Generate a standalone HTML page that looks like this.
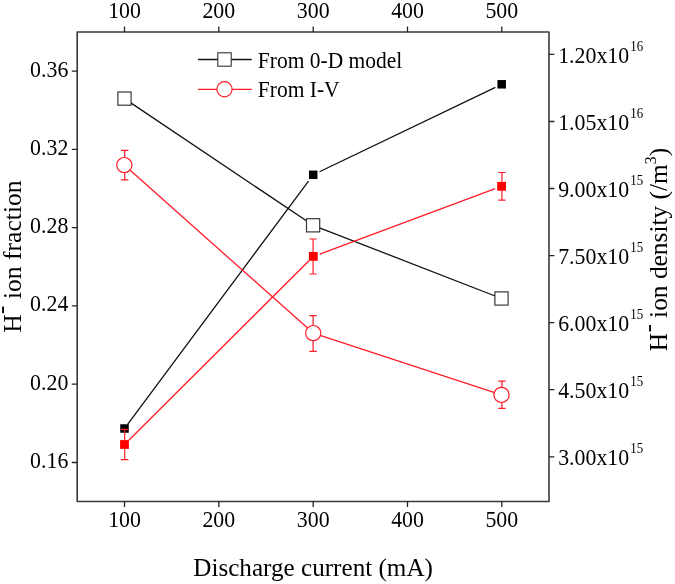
<!DOCTYPE html><html><head><meta charset="utf-8"><style>html,body{margin:0;padding:0;background:#fff;overflow:hidden}svg{display:block}text{font-family:"Liberation Serif",serif;fill:#000}</style></head><body>
<div style="will-change:transform;width:675px;height:584px">
<svg width="675" height="584" viewBox="0 0 675 584">
<rect width="675" height="584" fill="#fff"/>
<rect x="77.2" y="32.0" width="471.8" height="469.5" fill="none" stroke="#3a3a3a" stroke-width="1.6" stroke-linejoin="round"/>
<path d="M124.5 501.5V506.9M124.5 32.0V26.6M218.8 501.5V506.9M218.8 32.0V26.6M313.2 501.5V506.9M313.2 32.0V26.6M407.5 501.5V506.9M407.5 32.0V26.6M501.8 501.5V506.9M501.8 32.0V26.6M77.2 71.1H71.8M77.2 149.4H71.8M77.2 227.7H71.8M77.2 305.9H71.8M77.2 384.2H71.8M77.2 462.5H71.8M549.0 54.4H554.4M549.0 121.5H554.4M549.0 188.5H554.4M549.0 255.6H554.4M549.0 322.7H554.4M549.0 389.7H554.4M549.0 456.8H554.4" stroke="#222" stroke-width="1.3" fill="none"/>
<text transform="translate(124.5,527.15) scale(0.91,1)" font-size="24.0" text-anchor="middle">100</text>
<text transform="translate(124.5,18.15) scale(0.91,1)" font-size="24.0" text-anchor="middle">100</text>
<text transform="translate(218.8,527.15) scale(0.91,1)" font-size="24.0" text-anchor="middle">200</text>
<text transform="translate(218.8,18.15) scale(0.91,1)" font-size="24.0" text-anchor="middle">200</text>
<text transform="translate(313.2,527.15) scale(0.91,1)" font-size="24.0" text-anchor="middle">300</text>
<text transform="translate(313.2,18.15) scale(0.91,1)" font-size="24.0" text-anchor="middle">300</text>
<text transform="translate(407.5,527.15) scale(0.91,1)" font-size="24.0" text-anchor="middle">400</text>
<text transform="translate(407.5,18.15) scale(0.91,1)" font-size="24.0" text-anchor="middle">400</text>
<text transform="translate(501.8,527.15) scale(0.91,1)" font-size="24.0" text-anchor="middle">500</text>
<text transform="translate(501.8,18.15) scale(0.91,1)" font-size="24.0" text-anchor="middle">500</text>
<text transform="translate(68.3,76.6) scale(0.91,1)" font-size="24.0" text-anchor="end">0.36</text>
<text transform="translate(68.3,154.9) scale(0.91,1)" font-size="24.0" text-anchor="end">0.32</text>
<text transform="translate(68.3,233.2) scale(0.91,1)" font-size="24.0" text-anchor="end">0.28</text>
<text transform="translate(68.3,311.4) scale(0.91,1)" font-size="24.0" text-anchor="end">0.24</text>
<text transform="translate(68.3,389.7) scale(0.91,1)" font-size="24.0" text-anchor="end">0.20</text>
<text transform="translate(68.3,468) scale(0.91,1)" font-size="24.0" text-anchor="end">0.16</text>
<text transform="translate(558.2,62.75) scale(0.91,1)" font-size="24.0">1.20x10<tspan dx="1.3" dy="-11.9" font-size="14.2">16</tspan></text>
<text transform="translate(558.2,129.85) scale(0.91,1)" font-size="24.0">1.05x10<tspan dx="1.3" dy="-11.9" font-size="14.2">16</tspan></text>
<text transform="translate(558.2,196.85) scale(0.91,1)" font-size="24.0">9.00x10<tspan dx="1.3" dy="-11.9" font-size="14.2">15</tspan></text>
<text transform="translate(558.2,263.95) scale(0.91,1)" font-size="24.0">7.50x10<tspan dx="1.3" dy="-11.9" font-size="14.2">15</tspan></text>
<text transform="translate(558.2,331.05) scale(0.91,1)" font-size="24.0">6.00x10<tspan dx="1.3" dy="-11.9" font-size="14.2">15</tspan></text>
<text transform="translate(558.2,398.05) scale(0.91,1)" font-size="24.0">4.50x10<tspan dx="1.3" dy="-11.9" font-size="14.2">15</tspan></text>
<text transform="translate(558.2,465.15) scale(0.91,1)" font-size="24.0">3.00x10<tspan dx="1.3" dy="-11.9" font-size="14.2">15</tspan></text>
<text transform="translate(313.1,575.8) scale(0.971,1)" font-size="25.9" text-anchor="middle">Discharge current (mA)</text>
<text transform="translate(20.6,332.7) rotate(-90) scale(1.008,1)" font-size="25.4">H<tspan dx="0.3" dy="-11.3" font-size="25">-</tspan><tspan dy="11.3"> ion fraction</tspan></text>
<text transform="translate(667.3,351.2) rotate(-90)" font-size="25.4">H<tspan dx="0.3" dy="-11.3" font-size="25">-</tspan><tspan dy="11.3"> ion density (/m</tspan><tspan dy="-11" font-size="15.7">3</tspan><tspan dy="11">)</tspan></text>
<path d="M198.1 59.5H251.7" stroke="#111" stroke-width="1.4"/>
<rect x="217.8" y="52.8" width="13.4" height="13.4" fill="#fff" stroke="#333" stroke-width="1.1"/>
<path d="M198.1 89.3H251.7" stroke="#ff1c28" stroke-width="1.3"/>
<circle cx="224.5" cy="89.2" r="7.6" fill="#fff" stroke="#ff1c28" stroke-width="1.2"/>
<text transform="translate(257.8,67.6) scale(0.935,1)" font-size="23.0">From 0-D model</text>
<text transform="translate(257.8,97) scale(0.935,1)" font-size="23.0">From I-V</text>
<path d="M124.5 98.6L313.1 225.3M313.1 225.3L501.5 298.5" stroke="#111" stroke-width="1.3" fill="none"/>
<path d="M127.62 424.3L308.51 181.1M319.5 171.78L495.4 87.32" stroke="#111" stroke-width="1.3" fill="none"/>
<rect x="117.9" y="92" width="13.2" height="13.2" fill="#fff" stroke="#383838" stroke-width="1.2"/>
<rect x="306.5" y="218.7" width="13.2" height="13.2" fill="#fff" stroke="#383838" stroke-width="1.2"/>
<rect x="494.9" y="291.9" width="13.2" height="13.2" fill="#fff" stroke="#383838" stroke-width="1.2"/>
<rect x="120.25" y="424.25" width="8.5" height="8.5" fill="#000"/>
<rect x="308.95" y="170.55" width="8.5" height="8.5" fill="#000"/>
<rect x="497.45" y="80.05" width="8.5" height="8.5" fill="#000"/>
<path d="M124.3 165.1L313.2 333.1M313.2 333.1L501.5 394.9" stroke="#ff1c28" stroke-width="1.3" fill="none"/>
<path d="M128.8 440.22L309 260.68M319.7 254.02L495.2 188.68" stroke="#ff1c28" stroke-width="1.3" fill="none"/>
<path d="M124.7 150.3V179.8M121 150.3H128.4M121 179.8H128.4M313.1 315.6V351.4M309.4 315.6H316.8M309.4 351.4H316.8M501.9 381.1V408.4M498.2 381.1H505.6M498.2 408.4H505.6M124.7 429.3V459.6M121 429.3H128.4M121 459.6H128.4M313.1 239.0V274.0M309.4 239.0H316.8M309.4 274.0H316.8M501.9 172.5V200.1M498.2 172.5H505.6M498.2 200.1H505.6" stroke="#ff1c28" stroke-width="1.2" fill="none"/>
<circle cx="124.3" cy="165.1" r="7.6" fill="#fff" stroke="#ff1c28" stroke-width="1.2"/>
<circle cx="313.2" cy="333.1" r="7.6" fill="#fff" stroke="#ff1c28" stroke-width="1.2"/>
<circle cx="501.5" cy="394.9" r="7.6" fill="#fff" stroke="#ff1c28" stroke-width="1.2"/>
<rect x="120.1" y="440.1" width="8.8" height="8.8" fill="#f00"/>
<rect x="308.9" y="252" width="8.8" height="8.8" fill="#f00"/>
<rect x="497.2" y="181.9" width="8.8" height="8.8" fill="#f00"/>
</svg></div></body></html>
